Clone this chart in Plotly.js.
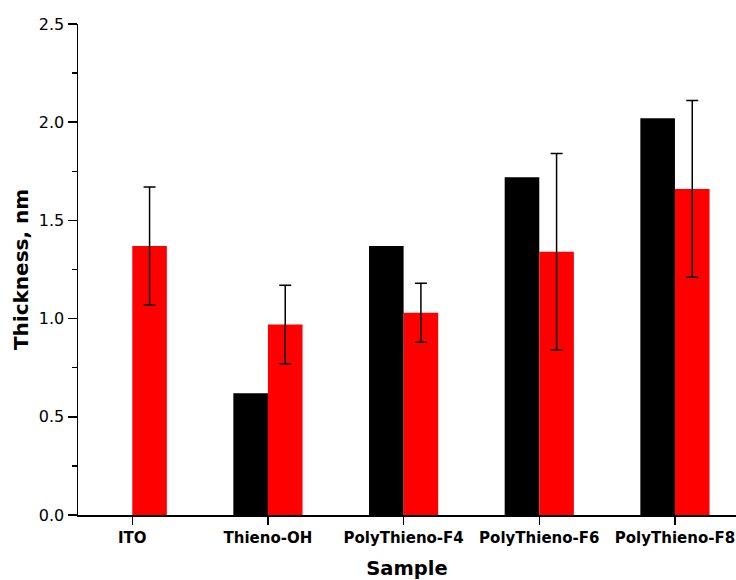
<!DOCTYPE html>
<html>
<head>
<meta charset="utf-8">
<script src="https://cdn.plot.ly/plotly-3.0.1.min.js"></script>
<style>html,body{margin:0;padding:0;background:#fff;}#chart{width:736px;height:580px;}</style>
</head>
<body>
<div id="chart"></div>
<script>
var categories = ["ITO", "Thieno-OH", "PolyThieno-F4", "PolyThieno-F6", "PolyThieno-F8"];
var blackValues = [null, 0.62, 1.37, 1.72, 2.02];
var redValues = [1.37, 0.97, 1.03, 1.34, 1.66];
var redErrors = [0.30, 0.20, 0.15, 0.50, 0.45];
var yTickValues = [0, 0.5, 1.0, 1.5, 2.0, 2.5];

var traces = [
  {
    type: "bar",
    x: categories,
    y: blackValues,
    marker: {color: "#000000"},
    name: "Black",
    hoverinfo: "x+y"
  },
  {
    type: "bar",
    x: categories,
    y: redValues,
    marker: {color: "#ff0000"},
    name: "Red",
    error_y: {type: "data", array: redErrors, visible: true, color: "#000000", thickness: 1.5, width: 6}
  }
];

var layout = {
  width: 736,
  height: 580,
  margin: {l: 78, r: 0, t: 24, b: 65},
  paper_bgcolor: "#ffffff",
  plot_bgcolor: "#ffffff",
  showlegend: false,
  barmode: "group",
  bargap: 0.49,
  bargroupgap: 0,
  font: {family: "DejaVu Sans, Arial, sans-serif", color: "#000000"},
  xaxis: {
    type: "category",
    range: [-0.4, 4.45],
    showline: true,
    linecolor: "#000000",
    linewidth: 1.5,
    ticks: "outside",
    ticklen: 8,
    tickwidth: 1.5,
    tickcolor: "#000000",
    showgrid: false,
    zeroline: false,
    tickfont: {family: "DejaVu Sans, Arial, sans-serif", size: 15, weight: "bold"},
    title: {text: "<b>Sample</b>", font: {size: 19.5}, standoff: 17}
  },
  yaxis: {
    range: [0, 2.5],
    tickvals: yTickValues,
    tickformat: ".1f",
    showline: true,
    linecolor: "#000000",
    linewidth: 1.5,
    ticks: "outside",
    ticklen: 9,
    tickwidth: 1.5,
    tickcolor: "#000000",
    minor: {dtick: 0.25, ticks: "outside", ticklen: 5, tickwidth: 1.5, tickcolor: "#000000", showgrid: false},
    showgrid: false,
    zeroline: false,
    tickfont: {family: "DejaVu Sans, Arial, sans-serif", size: 16},
    title: {text: "<b>Thickness, nm</b>", font: {size: 20}, standoff: 5}
  }
};

Plotly.newPlot("chart", traces, layout, {displayModeBar: false, staticPlot: true});
</script>
</body>
</html>
